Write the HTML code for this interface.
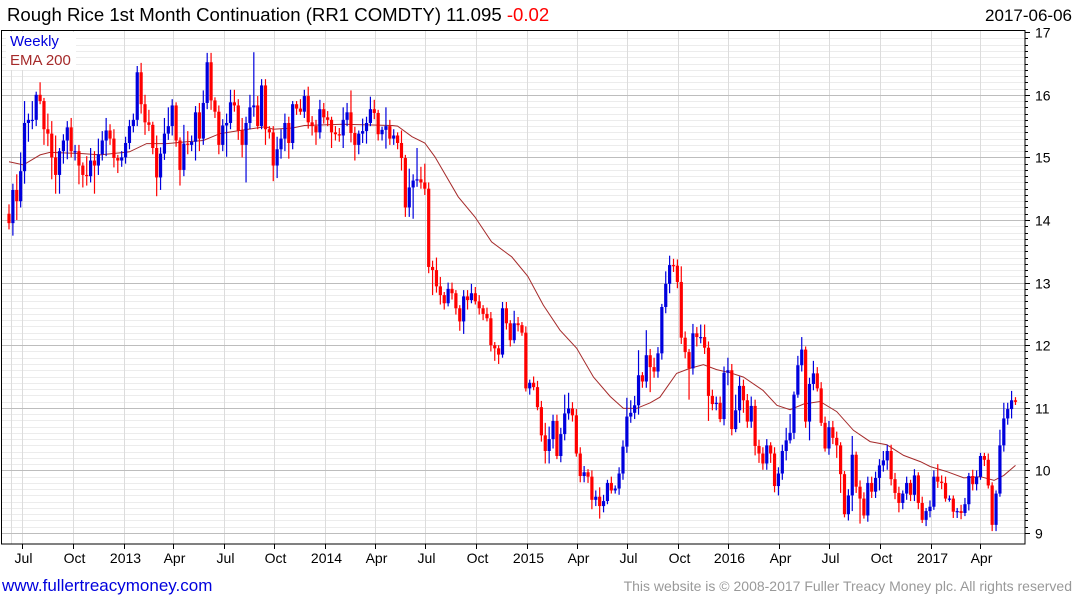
<!DOCTYPE html>
<html><head><meta charset="utf-8"><style>
html,body{margin:0;padding:0;background:#fff;}
svg{display:block;font-family:"Liberation Sans",sans-serif;}
</style></head><body>
<svg id="chart" width="1075" height="600" viewBox="0 0 1075 600" xmlns="http://www.w3.org/2000/svg">
<rect x="0" y="0" width="1075" height="600" fill="#fff"/>
<text x="7" y="21" font-size="18.6" fill="#000">Rough Rice 1st Month Continuation (RR1 COMDTY) 11.095 <tspan fill="#ff0000">-0.02</tspan></text>
<text x="1072" y="21" font-size="17" fill="#000" text-anchor="end">2017-06-06</text>
<g id="grid"></g>
<g id="ema"></g>
<g id="candles"></g>
<rect x="1.5" y="30.5" width="1023.5" height="513.5" fill="none" stroke="#000" stroke-width="1"/>
<g id="axes"></g>
<rect x="6" y="32" width="70" height="38" fill="#fff"/>
<text x="10" y="46" font-size="15" fill="#0000dd">Weekly</text>
<text x="10" y="65" font-size="15" fill="#a52a2a">EMA 200</text>
<text x="2" y="591" font-size="17" fill="#0000dd">www.fullertreacymoney.com</text>
<text x="1072" y="591" font-size="14" fill="#999" text-anchor="end">This website is © 2008-2017 Fuller Treacy Money plc. All rights reserved</text>
</svg>
<script>
const closes = [13.95,14.48,14.3,14.78,15.55,15.6,15.6,16.0,15.9,15.45,
15.38,15.0,14.72,15.1,15.27,15.48,15.1,15.1,14.87,14.72,
14.7,14.95,14.87,15.05,15.27,15.43,15.3,14.99,14.95,15.0,
15.23,15.5,15.6,16.36,15.85,15.56,15.52,15.15,14.68,15.06,
15.38,15.5,15.83,15.27,14.8,15.22,15.2,15.25,15.72,15.3,
15.87,16.52,15.91,15.73,15.2,15.51,15.55,15.88,15.83,15.43,
15.2,15.55,15.8,15.83,15.5,16.15,15.45,15.4,14.87,15.13,
15.3,15.55,15.23,15.85,15.78,15.73,15.98,15.56,15.5,15.4,
15.77,15.64,15.6,15.4,15.37,15.35,15.6,15.72,15.39,15.2,
15.38,15.42,15.55,15.77,15.71,15.37,15.44,15.5,15.3,15.35,
15.23,14.99,14.2,14.52,14.63,14.65,14.6,14.5,13.25,13.2,
12.94,12.8,12.67,12.9,12.83,12.59,12.38,12.78,12.72,12.83,
12.7,12.59,12.5,12.43,12.0,11.95,11.85,12.59,12.35,12.08,
12.35,12.32,12.2,11.31,11.4,11.33,11.01,10.56,10.31,10.5,
10.79,10.23,10.58,10.91,10.99,10.88,10.27,9.91,9.97,9.9,
9.53,9.58,9.43,9.51,9.8,9.68,9.71,9.95,10.38,10.86,
10.92,11.04,11.52,11.42,11.84,11.65,11.58,11.87,12.61,12.98,
13.28,13.27,13.01,12.12,11.89,11.63,12.19,12.13,12.13,11.96,
11.19,11.06,11.08,10.82,11.56,11.6,10.66,10.96,11.35,11.12,
10.78,11.03,10.39,10.27,10.11,10.4,10.27,9.75,9.95,10.31,
10.48,10.6,11.21,11.68,11.93,10.78,11.38,11.55,11.31,10.76,
10.35,10.69,10.52,10.4,9.94,9.3,9.6,10.25,9.74,9.55,
9.28,9.8,9.66,9.88,10.08,10.16,10.31,9.86,9.64,9.48,
9.63,9.8,9.61,9.92,9.48,9.21,9.35,9.42,9.9,9.82,
9.8,9.55,9.55,9.34,9.35,9.32,9.46,9.91,9.78,9.9,
10.23,10.17,9.76,9.13,9.63,10.4,10.83,10.98,11.12,11.095];
const wickUp = [.15,.1,.25,.3,.35,.1,.3,.05,.2,.05,
.25,.2,.35,.05,.1,.1,.15,.1,.1,.05,
.3,.2,.15,.25,.15,.2,.1,.15,.05,.1,
.1,.1,.1,.1,.15,.15,.2,.05,.2,.1,
.25,.3,.1,.05,.05,.3,.2,.1,.1,.15,
.2,.15,.15,.05,.1,.1,.15,.2,.2,.1,
.2,.1,.2,.85,.15,.1,.1,.05,.1,.2,
.15,.15,.1,.05,.05,.15,.1,.15,.1,.1,
.15,.1,.1,.05,.1,.1,.2,.15,.35,.1,
.05,.2,.1,.2,.15,.05,.05,.3,.1,.1,
.05,.2,.05,.3,.1,.5,.2,.3,.1,.1,
.2,.15,.05,.1,.1,.05,.05,.1,.1,.15,
.1,.1,.05,.1,.1,.05,.05,.1,.1,.05,
.2,.1,.05,.1,.05,.1,.1,.1,.2,.2,
.1,.1,.1,.3,.25,.1,.1,.1,.1,.05,
.1,.1,.15,.1,.05,.1,.05,.1,.1,.3,
.2,.15,.4,.05,.4,.1,.15,.1,.05,.2,
.15,.1,.1,.25,.1,.05,.15,.1,.2,.2,
.1,.1,.1,.1,.1,.2,.1,.25,.15,.1,
.1,.15,.1,.1,.1,.1,.05,.1,.1,.1,
.2,.3,.05,.15,.2,.05,.1,.2,.1,.1,
.1,.1,.1,.1,.05,.05,.1,.3,.05,.1,
.1,.1,.1,.1,.1,.15,.1,.1,.1,.1,
.05,.1,.05,.1,.05,.1,.05,.1,.1,.2,
.1,.1,.05,.05,.05,.1,.1,.05,.1,.1,
.05,.05,.1,.05,.05,.25,.25,.1,.15,.05];
const wickDn = [.1,.2,.3,.1,.2,.3,.15,.1,.05,.25,
.2,.35,.3,.3,.2,.3,.1,.15,.3,.2,
.15,.1,.45,.15,.1,.25,.1,.15,.2,.1,
.1,.1,.1,.1,.15,.2,.1,.1,.3,.2,
.1,.1,.15,.1,.25,.1,.15,.1,.3,.2,
.1,.1,.15,.1,.15,.1,.5,.1,.1,.15,
.2,.6,.1,.15,.05,.05,.25,.1,.25,.2,
.15,.2,.25,.1,.1,.05,.1,.1,.15,.2,
.1,.1,.1,.25,.1,.1,.2,.1,.15,.25,
.15,.15,.2,.05,.1,.1,.1,.3,.1,.1,
.1,.2,.15,.15,.5,.1,.1,.1,.1,.4,
.1,.15,.1,.05,.1,.1,.15,.2,.15,.05,
.05,.1,.1,.05,.1,.2,.15,.05,.1,.1,
.05,.1,.05,.05,.1,.05,.05,.1,.2,.2,
.15,.05,.1,.1,.1,.1,.05,.1,.1,.1,
.15,.1,.2,.1,.05,.05,.05,.1,.1,.1,
.1,.1,.15,.1,.1,.4,.1,.1,.1,.1,
.15,.1,.1,.1,.1,.5,.1,.15,.1,.1,
.4,.1,.1,.05,.1,.2,.1,.05,.2,.2,
.1,.1,.15,.15,.1,.1,.15,.1,.15,.1,
.15,.05,.1,.05,.1,.1,.3,.1,.05,.05,
.05,.1,.1,.2,.3,.05,.1,.25,.1,.4,
.05,.1,.1,.1,.2,.1,.15,.1,.1,.15,
.1,.1,.1,.1,.1,.05,.1,.1,.05,.1,
.1,.05,.05,.1,.1,.1,.05,.1,.1,.1,
.05,.1,.05,.1,.1,.05,.1,.1,.15,.05];
const firstOpen = 14.1;
const emaWeek = [0,3.7,8,10.5,19,23.4,31,35.4,40.6,45.7,50,54.3,59.4,66,68,73,76,86,98.6,100,103.7,107,109.6,115.6,119.9,124.2,129.4,133.5,137.5,141.8,146.1,150.4,154.7,158.1,161.5,165,167.5,171.8,175.2,178.7,182.1,185.5,189,194,197.6,201,204.5,208.7,213,217.3,221.6,225.9,230.2,234.5,237.1,241.4,245.7,250,253.5,256,259];
const emaValue = [14.93,14.88,15.04,15.08,15.06,15.04,15.09,15.22,15.22,15.25,15.27,15.38,15.43,15.49,15.45,15.47,15.51,15.53,15.51,15.5,15.33,15.23,15.01,14.37,14.05,13.65,13.41,13.1,12.64,12.24,11.95,11.49,11.18,10.99,10.99,11.08,11.17,11.55,11.63,11.69,11.61,11.56,11.49,11.28,11.04,10.97,11.06,11.1,10.94,10.64,10.46,10.41,10.24,10.14,10.06,9.98,9.88,9.9,9.84,9.92,10.08];
const yTicks = [9,10,11,12,13,14,15,16,17];
const xTickLabels = ["Jul","Oct","2013","Apr","Jul","Oct","2014","Apr","Jul","Oct","2015","Apr","Jul","Oct","2016","Apr","Jul","Oct","2017","Apr"];
const xTickDates = ["2012-07-01","2012-10-01","2013-01-01","2013-04-01","2013-07-01","2013-10-01","2014-01-01","2014-04-01","2014-07-01","2014-10-01","2015-01-01","2015-04-01","2015-07-01","2015-10-01","2016-01-01","2016-04-01","2016-07-01","2016-10-01","2017-01-01","2017-04-01"];

const NS="http://www.w3.org/2000/svg";
const L=1.5,R=1025,T=30.5,B=544;
function Y(p){return 533-(p-9)*62.6;}
function X(i){return 9+i*3.886;}
const d0=Date.parse("2012-07-01");
function XD(s){return 22+(Date.parse(s)-d0)/86400000*0.5523;}
function mk(tag,attrs,parent){const e=document.createElementNS(NS,tag);for(const k in attrs)e.setAttribute(k,attrs[k]);parent.appendChild(e);return e;}
const grid=document.getElementById('grid'),axes=document.getElementById('axes'),cg=document.getElementById('candles'),eg=document.getElementById('ema');
for(let v=90;v<=170;v++){
  if(v%10===0)continue;
  const y=Math.round(Y(v/10))+0.5;
  const ln=mk('line',{x1:L,x2:R,y1:y,y2:y,stroke:'#ececec','stroke-width':1},grid);
  
  
  const tk=mk('line',{x1:R,x2:R+3,y1:y,y2:y,stroke:'#000','stroke-width':1},axes);
  
  
}
const extra=mk('line',{x1:11.5,x2:11.5,y1:T,y2:B,stroke:'#dcdcdc','stroke-width':1},grid);


xTickDates.forEach((d,k)=>{
  const x=Math.round(XD(d))+0.5;
  const g=mk('line',{x1:x,x2:x,y1:T,y2:B,stroke:'#dcdcdc','stroke-width':1},grid);
  
  
  const tk=mk('line',{x1:x,x2:x,y1:B,y2:B+5,stroke:'#000','stroke-width':1},axes);
  
  
  const t=mk('text',{x:x+1,y:563,'font-size':14,'text-anchor':'middle',fill:'#000'},axes);
  
  
  t.textContent=xTickLabels[k];
});
yTicks.forEach(v=>{
  const y=Math.round(Y(v))+0.5;
  if(v<17){const g=mk('line',{x1:L,x2:R,y1:y,y2:y,stroke:'#bdbdbd','stroke-width':1},grid);
  
  }
  const tk=mk('line',{x1:R,x2:R+5,y1:y,y2:y,stroke:'#000','stroke-width':1},axes);
  
  
  const t=mk('text',{x:1035,y:y+5,'font-size':14,fill:'#000'},axes);
  
  
  t.textContent=String(v);
});
let pts=emaWeek.map((w,k)=>X(w).toFixed(1)+','+Y(emaValue[k]).toFixed(1)).join(' ');
const pl=mk('polyline',{points:pts,fill:'none',stroke:'#a52a2a','stroke-width':1},eg);


let prev=firstOpen;
closes.forEach((c,i)=>{
  const o=prev; prev=c;
  const col=c>=o?'#0000dd':'#ff0000';
  const hi=Math.max(o,c)+wickUp[i], lo=Math.min(o,c)-wickDn[i];
  const x=X(i);
  const g=mk('g',{},cg);
  
  
  mk('line',{x1:x,x2:x,y1:Y(hi),y2:Y(lo),stroke:col,'stroke-width':1.2},g);
  const yt=Y(Math.max(o,c)),yb=Y(Math.min(o,c));
  mk('rect',{x:x-1.6,y:yt,width:3.2,height:Math.max(1.2,yb-yt),fill:col},g);
});
</script>
</body></html>
